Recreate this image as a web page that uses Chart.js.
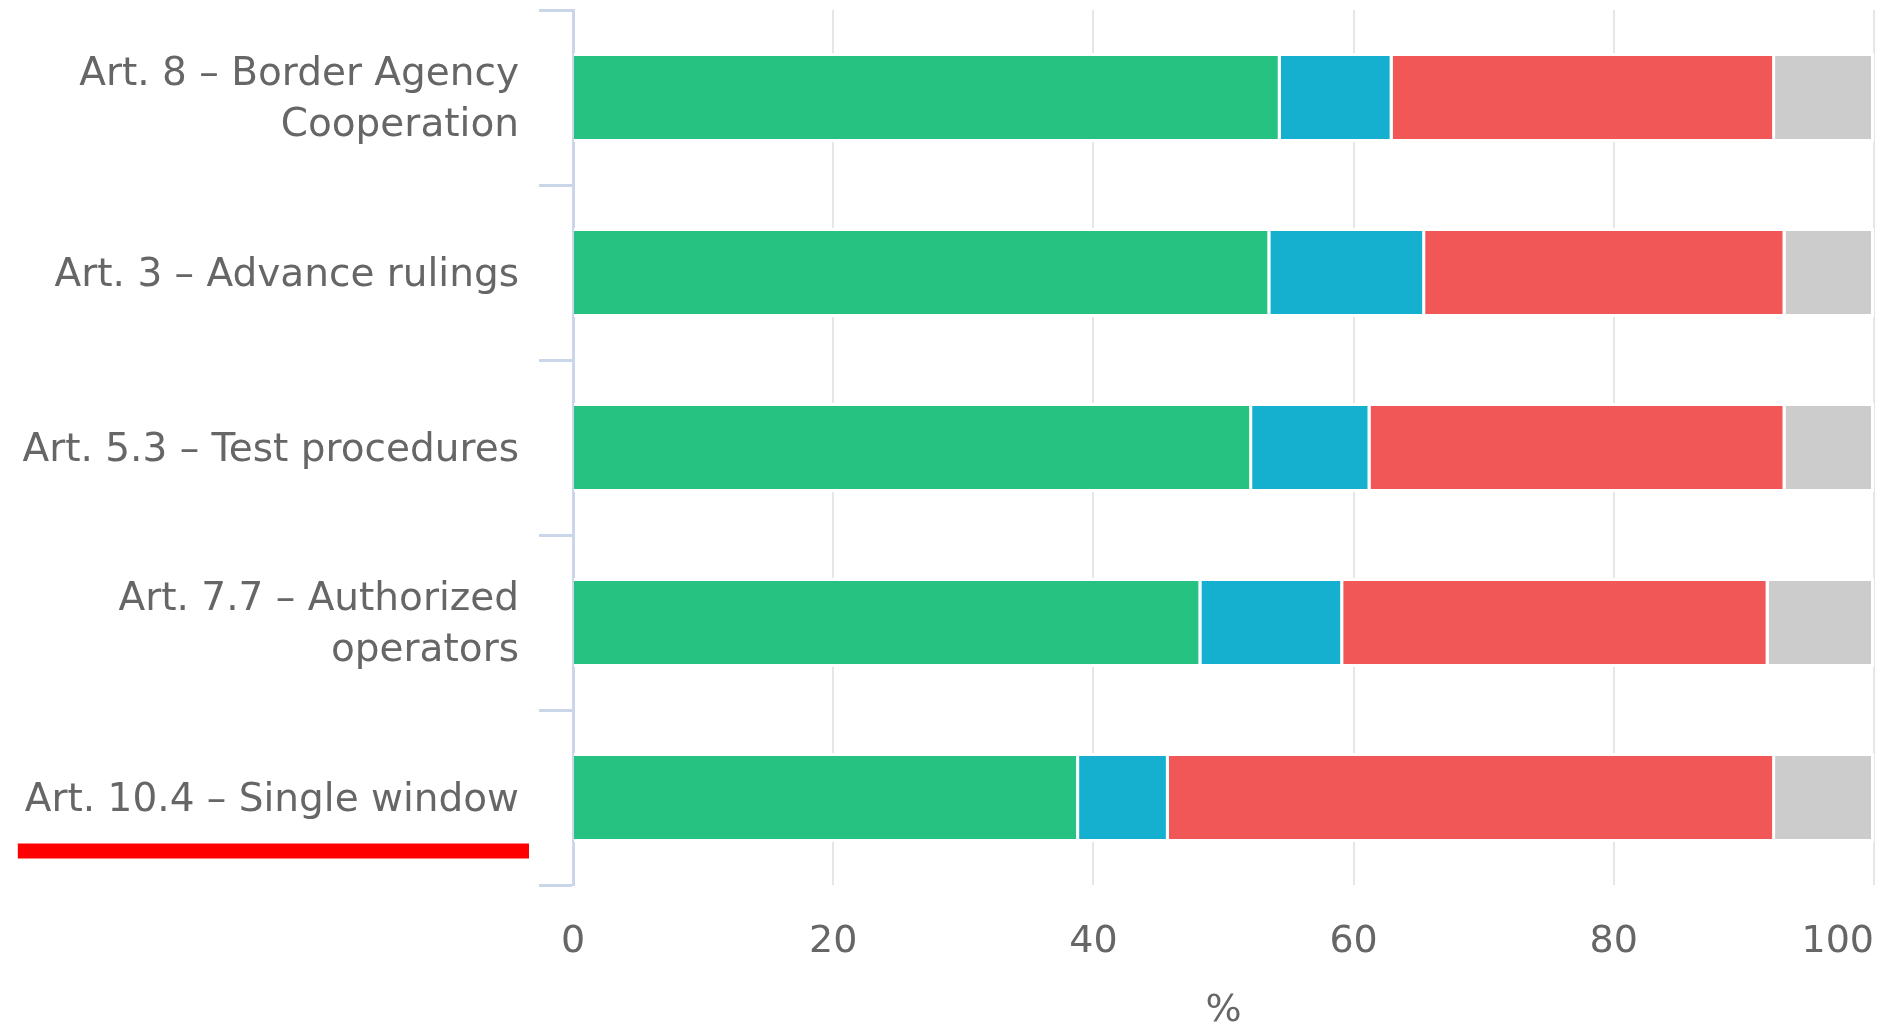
<!DOCTYPE html>
<html lang="en">
<head>
    <meta charset="UTF-8">
    <title>TFA articles - implementation</title>
    <script src="https://cdn.jsdelivr.net/npm/chart.js"></script>
    <style>
        html, body { margin: 0; padding: 0; background: #ffffff; }
        canvas { display: block; }
    </style>
</head>
<body>
    <canvas id="chart" width="1880" height="1024"></canvas>

    <script>
        // Categories (multi-line labels as arrays)
        const categories = [
            ['Art. 8 – Border Agency', 'Cooperation'],
            'Art. 3 – Advance rulings',
            'Art. 5.3 – Test procedures',
            ['Art. 7.7 – Authorized', 'operators'],
            'Art. 10.4 – Single window'
        ];

        // Series values (%)
        const implemented = [54.4, 53.6, 52.2, 48.3, 38.9];
        const partially = [8.6, 11.9, 9.1, 10.9, 6.9];
        const notImplemented = [29.4, 27.7, 31.9, 32.7, 46.6];
        const noAnswer = [7.6, 6.8, 6.8, 8.1, 7.6];

        const xTicks = [0, 20, 40, 60, 80, 100];
        const highlighted = 4; // label underlined in red

        const labelFont = { family: 'DejaVu Sans', size: 39, lineHeight: 1.3 };

        // Red bar under the highlighted category label
        const underlinePlugin = {
            id: 'underline',
            afterDraw(chart) {
                const y = chart.scales.y;
                const ctx = chart.ctx;
                const label = categories[highlighted];
                const yc = y.getPixelForValue(highlighted);
                const right = y.right - y.options.grid.tickLength - y.options.ticks.padding;
                ctx.save();
                ctx.font = labelFont.size + 'px "' + labelFont.family + '"';
                const w = ctx.measureText(label).width;
                ctx.fillStyle = '#ff0000';
                ctx.fillRect(right - w - 7, yc + 46, w + 17, 15);
                ctx.restore();
            }
        };

        const ctx = document.getElementById('chart').getContext('2d');
        new Chart(ctx, {
            type: 'bar',
            data: {
                labels: categories,
                datasets: [
                    { label: 'Implemented', data: implemented, backgroundColor: '#26c281' },
                    { label: 'Partially', data: partially, backgroundColor: '#15b0cf' },
                    { label: 'Not implemented', data: notImplemented, backgroundColor: '#f25757' },
                    { label: 'No answer', data: noAnswer, backgroundColor: '#cccccc' }
                ]
            },
            options: {
                indexAxis: 'y',
                responsive: false,
                animation: false,
                devicePixelRatio: 1,
                layout: { padding: { top: 10, right: 6, bottom: 0, left: 0 } },
                datasets: {
                    bar: {
                        borderColor: '#ffffff',
                        borderWidth: 3,
                        borderSkipped: 'start',
                        barPercentage: 0.508,
                        categoryPercentage: 1
                    }
                },
                plugins: {
                    legend: { display: false },
                    tooltip: { enabled: false }
                },
                scales: {
                    x: {
                        stacked: true,
                        min: 0,
                        max: 100,
                        afterBuildTicks: (scale) => {
                            scale.ticks = xTicks.map(v => ({ value: v }));
                        },
                        afterFit: (scale) => {
                            scale.height = 139;
                            scale.paddingLeft = 0;
                            scale.paddingRight = 0;
                        },
                        grid: {
                            drawTicks: false,
                            lineWidth: 2,
                            color: (c) => (c.tick && c.tick.value === 0) ? 'rgba(0,0,0,0)' : '#e6e6e6'
                        },
                        border: { display: false },
                        ticks: {
                            padding: 34,
                            color: '#666666',
                            font: { family: 'DejaVu Sans', size: 38 },
                            // last label sits inside the plot, right-aligned to its grid line
                            callback: (v) => v === 100 ? '100\u2007\u2007\u2007' : String(v)
                        },
                        title: {
                            display: true,
                            text: '%',
                            color: '#666666',
                            font: { family: 'DejaVu Sans', size: 38, lineHeight: 0.7 },
                            padding: { top: 0, bottom: 0 }
                        }
                    },
                    y: {
                        stacked: true,
                        z: 1,
                        afterFit: (scale) => {
                            scale.width = 573;
                            scale.paddingTop = 0;
                            scale.paddingBottom = 0;
                        },
                        grid: {
                            drawOnChartArea: false,
                            drawTicks: true,
                            tickLength: 34,
                            tickColor: '#ccd6eb',
                            tickWidth: 3
                        },
                        border: { display: true, color: '#ccd6eb', width: 3 },
                        ticks: {
                            padding: 20,
                            labelOffset: 3,
                            color: '#666666',
                            font: labelFont
                        }
                    }
                }
            },
            plugins: [underlinePlugin]
        });
    </script>
</body>
</html>
